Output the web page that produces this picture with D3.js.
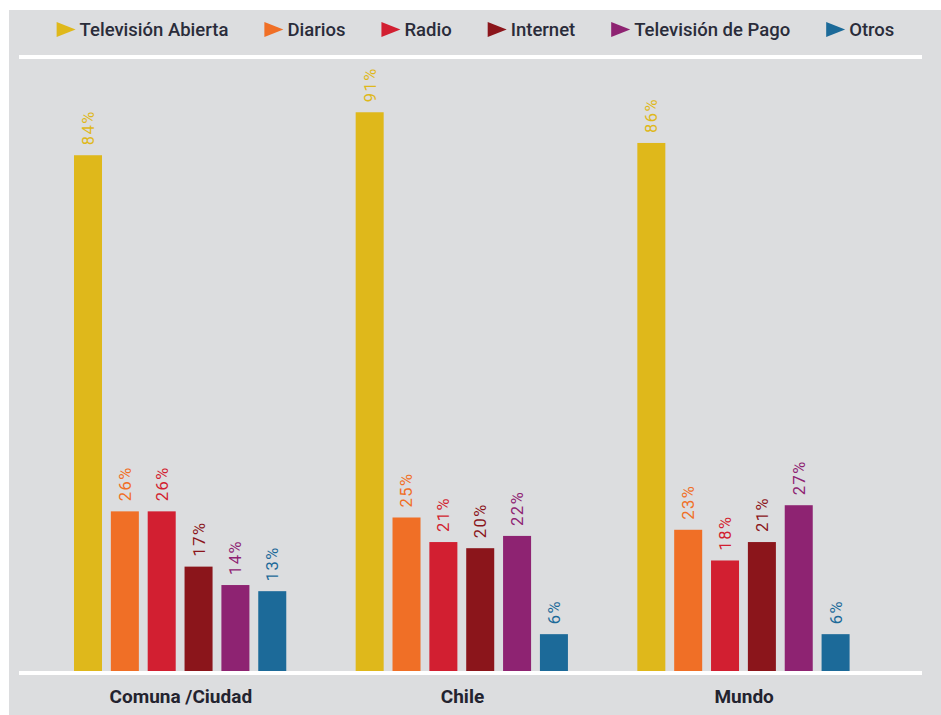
<!DOCTYPE html>
<html>
<head>
<meta charset="utf-8">
<script src="https://cdn.jsdelivr.net/npm/d3@7"></script>
<style>
  body { margin: 0; background: #fff; }
  svg { display: block; }
</style>
</head>
<body>
<div id="chart"></div>
<script>
// data
var categories = ["Comuna /Ciudad", "Chile", "Mundo"];
var seriesNames = ["Televisión Abierta", "Diarios", "Radio", "Internet", "Televisión de Pago", "Otros"];
var seriesColors = ["#dfb81b", "#f06f26", "#d21f31", "#8b151b", "#8e2372", "#1c6a99"];
var comunaValues = [84, 26, 26, 17, 14, 13];
var chileValues = [91, 25, 21, 20, 22, 6];
var mundoValues = [86, 23, 18, 21, 27, 6];

var W = 941, H = 715;
var table = categories.map(function(c, i){
  var vals = [comunaValues, chileValues, mundoValues][i];
  return {cat: c, values: seriesNames.map(function(s, j){ return {name: s, value: vals[j]}; })};
});

var svg = d3.select("#chart").append("svg")
  .attr("width", W)
  .attr("height", H);

// grey panel
svg.append("rect")
  .attr("x", 9).attr("y", 10)
  .attr("width", W - 9).attr("height", H - 10)
  .attr("fill", "#dcdddf");

var y = d3.scaleLinear().domain([0, 100]).range([671, 57]);
var x0 = d3.scaleBand().domain(categories).range([40, 885]);
var x1 = d3.scaleBand().domain(seriesNames)
  .range([x0.bandwidth() * 0.105, x0.bandwidth() * 0.89])
  .paddingInner(0.24).paddingOuter(0.12);
var color = d3.scaleOrdinal().domain(seriesNames).range(seriesColors);

// white rules (top and baseline)
svg.selectAll(".rule")
  .data([100, 0])
  .enter().append("line")
  .attr("x1", 19).attr("x2", 922)
  .attr("y1", function(d){ return y(d) + (d ? 0 : 2); })
  .attr("y2", function(d){ return y(d) + (d ? 0 : 2); })
  .attr("stroke", "#fff")
  .attr("stroke-width", 4);

var groups = svg.selectAll(".group")
  .data(table)
  .enter().append("g")
  .attr("class", "group")
  .attr("transform", function(d){ return "translate(" + x0(d.cat) + ",0)"; });

groups.selectAll("rect")
  .data(function(d){ return d.values; })
  .enter().append("rect")
  .attr("x", function(d){ return x1(d.name); })
  .attr("y", function(d){ return y(d.value); })
  .attr("width", x1.bandwidth())
  .attr("height", function(d){ return y(0) - y(d.value); })
  .attr("fill", function(d){ return color(d.name); });

// value labels, rotated
groups.selectAll(".val")
  .data(function(d){ return d.values; })
  .enter().append("text")
  .attr("class", "val")
  .attr("transform", function(d){
    return "translate(" + (x1(d.name) + x1.bandwidth() / 2) + "," + (y(d.value) - 10) + ") rotate(-90)";
  })
  .attr("dy", "0.36em")
  .style("font-family", "Roboto, sans-serif")
  .style("font-size", "16.5px")
  .style("letter-spacing", "1.5px")
  .attr("fill", function(d){ return color(d.name); })
  .text(function(d){ return d.value + "%"; });

// category labels
svg.selectAll(".cat")
  .data(categories)
  .enter().append("text")
  .attr("class", "cat")
  .attr("x", function(d){ return x0(d) + x0.bandwidth() / 2; })
  .attr("y", 703)
  .attr("text-anchor", "middle")
  .style("font-family", "Roboto, sans-serif")
  .style("font-size", "19px")
  .style("font-weight", "700")
  .attr("fill", "#23232f")
  .text(function(d){ return d; });

// legend
var legend = svg.append("g").attr("class", "legend");
var items = legend.selectAll("g")
  .data(seriesNames)
  .enter().append("g");
items.append("path")
  .attr("d", "M0,-7.5L19,0L0,7.5Z")
  .attr("fill", function(d){ return color(d); });
items.append("text")
  .attr("x", 23)
  .attr("y", 6.5)
  .style("font-family", "Roboto, sans-serif")
  .style("font-size", "18.5px")
  .style("font-weight", "500")
  .attr("fill", "#2a2c3a")
  .text(function(d){ return d; });

var cx = 0;
items.each(function(){
  var g = d3.select(this);
  g.attr("transform", "translate(" + cx + ",29.5)");
  cx += 23 + g.select("text").node().getComputedTextLength() + 36;
});
var legendWidth = cx - 36;
legend.attr("transform", "translate(" + (475.5 - legendWidth / 2) + ",0)");
</script>
</body>
</html>
